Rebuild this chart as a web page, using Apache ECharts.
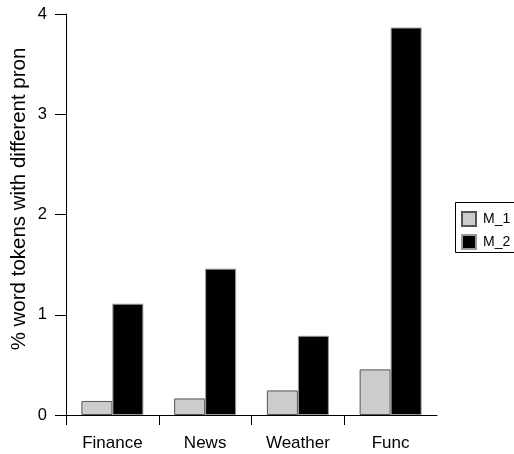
<!DOCTYPE html>
<html>
<head>
<meta charset="utf-8">
<script src="https://cdn.jsdelivr.net/npm/echarts@6/dist/echarts.min.js"></script>
<style>
    html, body { margin: 0; padding: 0; background: #fff; }
    #chart { width: 514px; height: 454px; }
</style>
</head>
<body>
<div id="chart"></div>
<script>
// data
var categories = ["Finance", "News", "Weather", "Func"]
var m1Values = [0.14, 0.165, 0.245, 0.455]
var m2Values = [1.11, 1.46, 0.79, 3.865]
var yTicks = [0, 1, 2, 3, 4]
// x ticks sit on the left edge of each group
var xTickPositions = [0, 1, 2, 3]

var chart = echarts.init(document.getElementById("chart"))
var font = "Liberation Sans, Arial, Helvetica, sans-serif"

var option = {
    animation: false,
    grid: {
        left: 66,
        right: 77,
        top: 14,
        bottom: 39
    },
    legend: {
        orient: "vertical",
        left: 455,
        top: 202,
        itemWidth: 14,
        itemHeight: 14,
        itemGap: 7,
        padding: [9, 6, 6, 6],
        icon: "rect",
        textStyle: { fontFamily: font, fontSize: 14, color: "#000", padding: [0, 0, 0, 2] },
        data: ["M_1", "M_2"]
    },
    xAxis: [
        {
            type: "category",
            data: categories,
            boundaryGap: true,
            axisLine: { lineStyle: { color: "#000", width: 1 } },
            axisTick: { show: false },
            axisLabel: {
                fontFamily: font,
                fontSize: 17,
                color: "#000",
                margin: 20
            }
        },
        {
            type: "value",
            min: 0,
            max: categories.length,
            position: "bottom",
            axisLine: { show: false },
            splitLine: { show: false },
            axisLabel: { show: false },
            axisTick: {
                show: true,
                length: 10,
                customValues: xTickPositions,
                lineStyle: { color: "#000" }
            }
        }
    ],
    yAxis: {
        type: "value",
        min: yTicks[0],
        max: yTicks[yTicks.length - 1],
        interval: 1,
        splitLine: { show: false },
        axisLine: { show: true, lineStyle: { color: "#000", width: 1 } },
        axisTick: { show: true, length: 11, lineStyle: { color: "#000" } },
        axisLabel: {
            fontFamily: font,
            fontSize: 16.5,
            color: "#000",
            margin: 19
        }
    },
    graphic: [
        {
            type: "text",
            x: 19,
            y: 199,
            rotation: Math.PI / 2,
            style: {
                text: "% word tokens with different pron",
                fontFamily: font,
                fontSize: 20.5,
                fill: "#000",
                align: "center",
                verticalAlign: "middle"
            }
        },
        {
            // legend box, runs off the right edge like the original
            type: "rect",
            shape: { x: 455.5, y: 202.5, width: 80, height: 50 },
            style: { fill: "none", stroke: "#000", lineWidth: 1 },
            z: -1
        }
    ],
    series: [
        {
            name: "M_1",
            type: "bar",
            xAxisIndex: 0,
            data: m1Values,
            barWidth: 31,
            barGap: "0%",
            itemStyle: { color: "#cccccc", borderColor: "#555", borderWidth: 1 }
        },
        {
            name: "M_2",
            type: "bar",
            xAxisIndex: 0,
            data: m2Values,
            barWidth: 31,
            barGap: "0%",
            itemStyle: { color: "#000", borderColor: "#999", borderWidth: 1 }
        }
    ]
}
chart.setOption(option)
</script>
</body>
</html>
